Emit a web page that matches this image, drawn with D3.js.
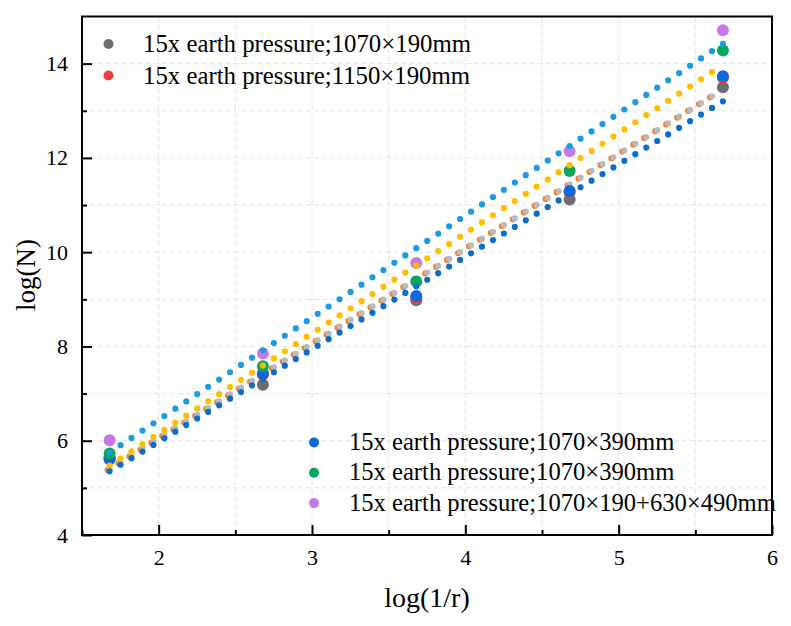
<!DOCTYPE html>
<html>
<head>
<meta charset="utf-8">
<script src="https://cdn.jsdelivr.net/npm/d3@7"></script>
<style>
  body { margin: 0; background: #fff; }
  text { font-family: "Times New Roman", "Liberation Serif", serif; }
</style>
</head>
<body>
<div id="chart"></div>
<script>
// measured x positions, log(1/r)
let xValues = [1.68, 2.68, 3.68, 4.68, 5.68];

// scatter series, log(N)
let grayVals   = [5.60, 7.19, 8.98, 11.12, 13.50];
let redVals    = [5.64, 7.40, 9.03, 11.27, 13.70];
let blueVals   = [5.63, 7.43, 9.07, 11.30, 13.73];
let greenVals  = [5.73, 7.58, 9.38, 11.72, 14.28];
let purpleVals = [6.01, 7.85, 9.77, 12.14, 14.71];

// fitted lines: [x start, x end] and [y start, y end]
let fitGrayX = [1.68, 5.68],   fitGrayY = [5.40, 13.45];
let fitOrangeX = [1.667, 5.667], fitOrangeY = [5.38, 13.43];
let fitSkyX = [1.68, 5.68],    fitSkyY = [5.75, 14.42];
let fitYellowX = [1.68, 5.68], fitYellowY = [5.47, 13.97];
let fitNavyX = [1.68, 5.68],   fitNavyY = [5.35, 13.20];

let legendTop = ["15x earth pressure;1070×190mm", "15x earth pressure;1150×190mm"];
let legendBottom = ["15x earth pressure;1070×390mm", "15x earth pressure;1070×390mm",
                    "15x earth pressure;1070×190+630×490mm"];

let xTicks = [2, 3, 4, 5, 6];
let yTicks = [4, 6, 8, 10, 12, 14];

// SVG area
let svgWidth = 791;
let svgHeight = 626;
let chartMargin = { top: 16.5, right: 19, bottom: 91, left: 82 };
let chartWidth = svgWidth - chartMargin.left - chartMargin.right;
let chartHeight = svgHeight - chartMargin.top - chartMargin.bottom;

let svg = d3.select("#chart")
  .append("svg")
  .attr("width", svgWidth)
  .attr("height", svgHeight);

let chartGroup = svg.append("g")
  .attr("transform", `translate(${chartMargin.left}, ${chartMargin.top})`);

let xScale = d3.scaleLinear().domain([1.5, 6]).range([0, chartWidth]);
let yScale = d3.scaleLinear().domain([4, 15]).range([chartHeight, 0]);

// grid
let gridX = d3.range(2, 6, 0.5);
let gridY = d3.range(5, 15, 1);
chartGroup.selectAll(".gx").data(gridX).enter().append("line")
  .attr("x1", d => xScale(d)).attr("x2", d => xScale(d))
  .attr("y1", 0).attr("y2", chartHeight)
  .attr("stroke", "#e2e2e2").attr("stroke-width", 1).attr("stroke-dasharray", "5,3");
chartGroup.selectAll(".gy").data(gridY).enter().append("line")
  .attr("x1", 0).attr("x2", chartWidth)
  .attr("y1", d => yScale(d)).attr("y2", d => yScale(d))
  .attr("stroke", "#e2e2e2").attr("stroke-width", 1).attr("stroke-dasharray", "5,3");

// axes with inward ticks
let bottomAxis = d3.axisBottom(xScale).tickValues(xTicks).tickFormat(d3.format("d"))
  .tickSizeInner(-10).tickSizeOuter(0).tickPadding(14);
let leftAxis = d3.axisLeft(yScale).tickValues(yTicks).tickFormat(d3.format("d"))
  .tickSizeInner(-10).tickSizeOuter(0).tickPadding(14);

chartGroup.append("g")
  .attr("class", "axis")
  .attr("transform", `translate(0, ${chartHeight})`)
  .call(bottomAxis);
chartGroup.append("g").attr("class", "axis").call(leftAxis);

// minor ticks
let minorX = d3.range(1.5, 6, 0.5).filter(d => !xTicks.includes(d));
let minorY = d3.range(5, 15, 2);
chartGroup.append("g")
  .attr("transform", `translate(0, ${chartHeight})`)
  .call(d3.axisBottom(xScale).tickValues(minorX).tickSizeInner(-5).tickSizeOuter(0).tickFormat(""));
chartGroup.append("g")
  .call(d3.axisLeft(yScale).tickValues(minorY).tickSizeInner(-5).tickSizeOuter(0).tickFormat(""));

chartGroup.selectAll(".domain").remove();
chartGroup.selectAll(".axis").attr("font-family", "Liberation Serif, serif").attr("font-size", null);
chartGroup.selectAll(".tick line").attr("stroke", "#000").attr("stroke-width", 2);
chartGroup.selectAll(".tick text").attr("font-size", "22px").attr("fill", "#000");

// frame
chartGroup.append("rect")
  .attr("width", chartWidth).attr("height", chartHeight)
  .attr("fill", "none").attr("stroke", "#000").attr("stroke-width", 2);

// dotted fit lines
function drawFit(xs, ys, color) {
  let pts = xs.map((x, i) => [x, ys[i]]);
  let line = d3.line().x(d => xScale(d[0])).y(d => yScale(d[1]));
  let path = chartGroup.append("path")
    .attr("d", line(pts))
    .attr("fill", "none")
    .attr("stroke", color)
    .attr("stroke-width", 6.2)
    .attr("stroke-linecap", "round");
  let len = path.node().getTotalLength();
  path.attr("stroke-dasharray", `0 ${len / 56}`);
}

function drawPoints(vals, color, r) {
  chartGroup.selectAll(null).data(vals).enter().append("circle")
    .attr("cx", (d, i) => xScale(xValues[i]))
    .attr("cy", d => yScale(d))
    .attr("r", r)
    .attr("fill", color);
}

drawFit(fitOrangeX, fitOrangeY, "#f4812e");
drawFit(fitGrayX, fitGrayY, "#bababa");

drawPoints(grayVals, "#6e6e6e", 6);
drawPoints(redVals, "#f33c3c", 6);
drawPoints(blueVals, "#0f67e0", 6);
drawPoints(greenVals, "#08a85c", 6);
drawPoints(purpleVals, "#c679e4", 6);

drawFit(fitSkyX, fitSkyY, "#1b9cdc");
drawFit(fitYellowX, fitYellowY, "#ffbf00");
drawFit(fitNavyX, fitNavyY, "#0b6fca");

// legends
let topColors = ["#6e6e6e", "#f33c3c"];
let legTop = svg.append("g");
legendTop.forEach((t, i) => {
  legTop.append("circle").attr("cx", 108.5).attr("cy", 44 + i * 31.5).attr("r", 5).attr("fill", topColors[i]);
  legTop.append("text").attr("x", 143).attr("y", 52 + i * 31.5)
    .attr("font-size", "24.8px").attr("fill", "#000").text(t);
});

let bottomColors = ["#0f67e0", "#08a85c", "#c679e4"];
let legBot = svg.append("g");
legendBottom.forEach((t, i) => {
  legBot.append("circle").attr("cx", 314).attr("cy", 442.5 + i * 30.3).attr("r", 5).attr("fill", bottomColors[i]);
  legBot.append("text").attr("x", 349).attr("y", 450 + i * 30.3)
    .attr("font-size", "24.6px").attr("fill", "#000").text(t);
});

// axis titles
svg.append("text")
  .attr("x", 427)
  .attr("y", 607)
  .attr("text-anchor", "middle")
  .attr("font-size", "28px")
  .text("log(1/r)");

svg.append("text")
  .attr("transform", "translate(35, 275) rotate(-90)")
  .attr("text-anchor", "middle")
  .attr("font-size", "27px")
  .text("log(N)");
</script>
</body>
</html>
